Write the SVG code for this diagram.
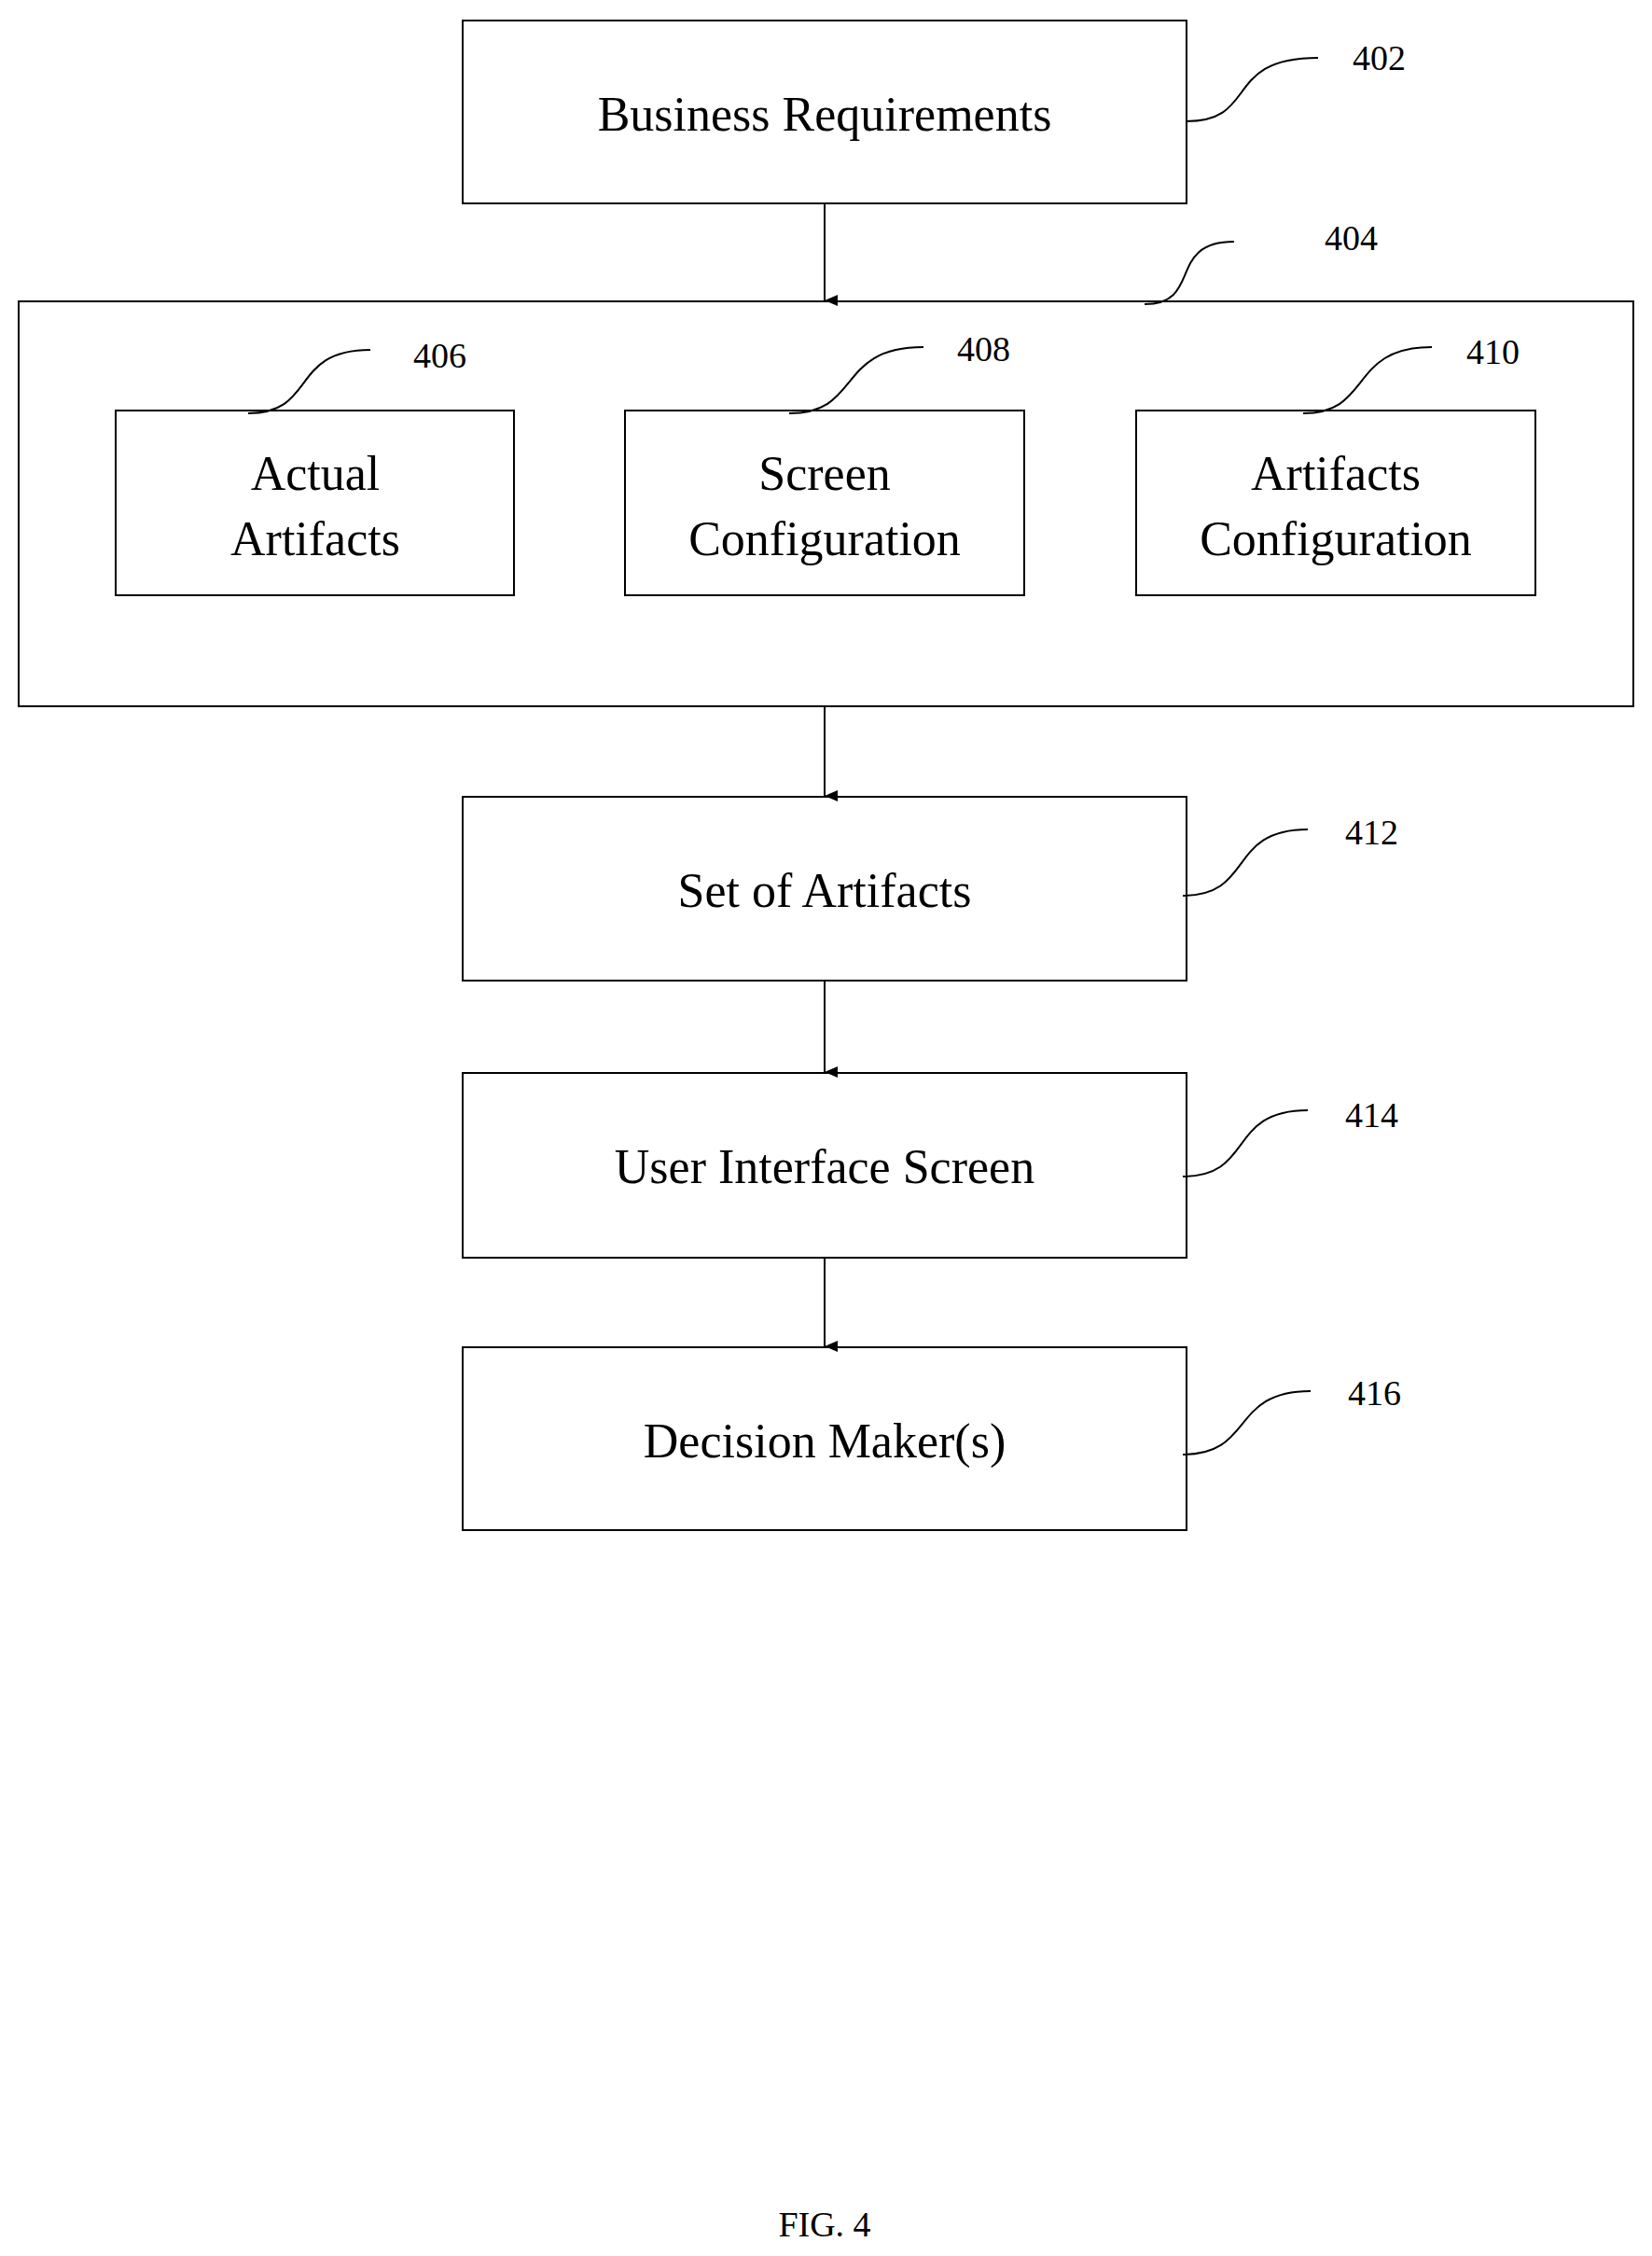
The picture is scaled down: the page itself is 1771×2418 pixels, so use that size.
<svg xmlns="http://www.w3.org/2000/svg" width="1771" height="2418" viewBox="0 0 1771 2418">
<style>
.b{fill:#fff;stroke:#000;stroke-width:2}
.t{font-family:"Liberation Serif",serif;font-size:52px;text-anchor:middle;fill:#000}
.n{font-family:"Liberation Serif",serif;font-size:38px;fill:#000}
.l{fill:none;stroke:#000;stroke-width:2}
</style>
<defs><marker id="a" markerWidth="12" markerHeight="14" refX="6" refY="14" orient="auto" markerUnits="userSpaceOnUse" viewBox="0 0 12 14"><path d="M0,0 L12,0 L6,14 Z" fill="#000"/></marker></defs>
<rect width="1771" height="2418" fill="#fff"/>
<g id="n404"><rect class="b" x="20" y="323" width="1731" height="434"/><path class="l" d="M1227,326 C1290,326 1250,259 1323,259"/><text class="n" x="1420" y="268">404</text></g>
<g id="n402"><rect class="b" x="496" y="22" width="776" height="196"/><text class="t" x="884" y="140">Business Requirements</text><path class="l" d="M1272,130 C1350,130 1310,62 1413,62"/><text class="n" x="1450" y="75">402</text></g>
<g id="n406"><rect class="b" x="124" y="440" width="427" height="198"/><text class="t" x="338" y="525">Actual</text><text class="t" x="338" y="595">Artifacts</text><path class="l" d="M266,443 C340,443 310,375 397,375"/><text class="n" x="443" y="394">406</text></g>
<g id="n408"><rect class="b" x="670" y="440" width="428" height="198"/><text class="t" x="884" y="525">Screen</text><text class="t" x="884" y="595">Configuration</text><path class="l" d="M846,443 C925,443 895,372 990,372"/><text class="n" x="1026" y="387">408</text></g>
<g id="n410"><rect class="b" x="1218" y="440" width="428" height="198"/><text class="t" x="1432" y="525">Artifacts</text><text class="t" x="1432" y="595">Configuration</text><path class="l" d="M1397,443 C1472,443 1445,372 1535,372"/><text class="n" x="1572" y="390">410</text></g>
<g id="n412"><rect class="b" x="496" y="854" width="776" height="197"/><text class="t" x="884" y="972">Set of Artifacts</text><path class="l" d="M1268,960 C1345,960 1315,889 1402,889"/><text class="n" x="1442" y="905">412</text></g>
<g id="n414"><rect class="b" x="496" y="1150" width="776" height="198"/><text class="t" x="884" y="1268">User Interface Screen</text><path class="l" d="M1268,1261 C1345,1261 1315,1190 1402,1190"/><text class="n" x="1442" y="1208">414</text></g>
<g id="n416"><rect class="b" x="496" y="1444" width="776" height="196"/><text class="t" x="884" y="1562">Decision Maker(s)</text><path class="l" d="M1268,1559 C1345,1559 1318,1491 1405,1491"/><text class="n" x="1445" y="1506">416</text></g>
<g id="connectors">
<line class="l" x1="884" y1="218" x2="884" y2="322" marker-end="url(#a)"/>
<line class="l" x1="884" y1="757" x2="884" y2="853" marker-end="url(#a)"/>
<line class="l" x1="884" y1="1051" x2="884" y2="1149" marker-end="url(#a)"/>
<line class="l" x1="884" y1="1348" x2="884" y2="1443" marker-end="url(#a)"/>
</g>
<text x="884" y="2397" font-family="Liberation Serif, serif" font-size="38" text-anchor="middle">FIG. 4</text>
</svg>
